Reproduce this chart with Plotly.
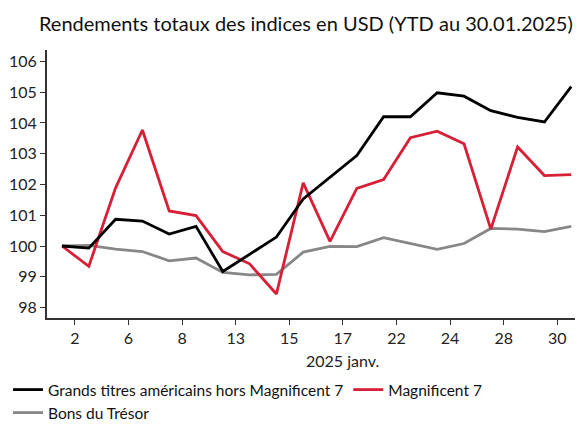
import plotly.graph_objects as go

# Data
dates = ["31.12", "02.01", "03.01", "06.01", "07.01", "08.01", "10.01", "13.01", "14.01",
         "15.01", "16.01", "17.01", "21.01", "22.01", "23.01", "24.01", "27.01", "28.01",
         "29.01", "30.01"]
tick_labels = ["2", "6", "8", "13", "15", "17", "22", "24", "28", "30"]
tick_dates = ["02.01", "06.01", "08.01", "13.01", "15.01", "17.01", "22.01", "24.01", "28.01", "30.01"]
y_ticks = [98, 99, 100, 101, 102, 103, 104, 105, 106]

large_ex_mag7 = [100.0, 99.93, 100.87, 100.81, 100.39, 100.64, 99.17, 99.73, 100.29, 101.53,
                 102.23, 102.94, 104.20, 104.20, 104.98, 104.87, 104.40, 104.18, 104.03, 105.18]
mag7 = [100.0, 99.34, 101.89, 103.77, 101.14, 100.99, 99.82, 99.42, 98.44, 102.05,
        100.15, 101.87, 102.16, 103.52, 103.73, 103.32, 100.55, 103.22, 102.29, 102.32]
treasury = [100.0, 100.02, 99.90, 99.82, 99.52, 99.61, 99.14, 99.06, 99.08, 99.80,
            99.99, 99.98, 100.27, 100.08, 99.89, 100.08, 100.57, 100.55, 100.47, 100.64]

series_names = ["Grands titres américains hors Magnificent 7", "Magnificent 7", "Bons du Trésor"]
colors = ["#000000", "#d71f37", "#878787"]
legend_ids = ["legend", "legend", "legend2"]

FONT = "Lato"
x_idx = list(range(len(dates)))
# ticks sit between the plotted observations, as in the reference
tick_vals = [dates.index(d) - 0.52 for d in tick_dates]

fig = go.Figure()
# draw grey first, then red, then black (black on top)
order = [2, 1, 0]
series = [large_ex_mag7, mag7, treasury]
for i in order:
    fig.add_trace(go.Scatter(x=x_idx, y=series[i], mode="lines", name=series_names[i],
                             legend=legend_ids[i], legendrank=i + 1,
                             line=dict(color=colors[i], width=2.8)))

legend_common = dict(orientation="h", xanchor="left", yanchor="middle",
                     font=dict(size=15.5, color="#111111"),
                     itemwidth=30, bgcolor="rgba(0,0,0,0)", borderwidth=0)

# the page body adds an 8px offset, so the figure is 8px smaller than the window
fig.update_layout(
    width=575, height=418,
    margin=dict(l=39, r=0, t=42, b=108, autoexpand=False),
    plot_bgcolor="white", paper_bgcolor="white",
    font=dict(family=FONT, size=16, color="#222222"),
    title=dict(text="Rendements totaux des indices en USD (YTD au 30.01.2025)",
               x=0.518, xanchor="center", y=0.962, yanchor="middle",
               font=dict(family=FONT, size=20, color="#111111")),
    showlegend=True,
    legend=dict(x=-0.0728, y=-0.2687, traceorder="normal", **legend_common),
    legend2=dict(x=-0.0728, y=-0.3545, **legend_common),
    xaxis=dict(range=[-0.56, 19.44], tickmode="array", tickvals=tick_vals,
               ticktext=tick_labels, showgrid=False, zeroline=False,
               showline=True, linecolor="#333333", linewidth=2,
               ticks="outside", ticklen=5, tickwidth=1.3, tickcolor="#333333",
               tickfont=dict(size=16, color="#222222")),
    yaxis=dict(range=[97.66, 106.37], tickmode="array", tickvals=y_ticks,
               showgrid=False, zeroline=False,
               showline=True, linecolor="#333333", linewidth=2,
               ticks="outside", ticklen=5, tickwidth=1.3, tickcolor="#333333",
               tickfont=dict(size=16, color="#222222")),
    annotations=[dict(text="2025 janv.", xref="x", yref="paper",
                      x=tick_vals[tick_labels.index("17")], y=-0.157,
                      xanchor="center", yanchor="middle", showarrow=False,
                      font=dict(size=16, color="#222222"))],
)

fig.write_html("out.html")
